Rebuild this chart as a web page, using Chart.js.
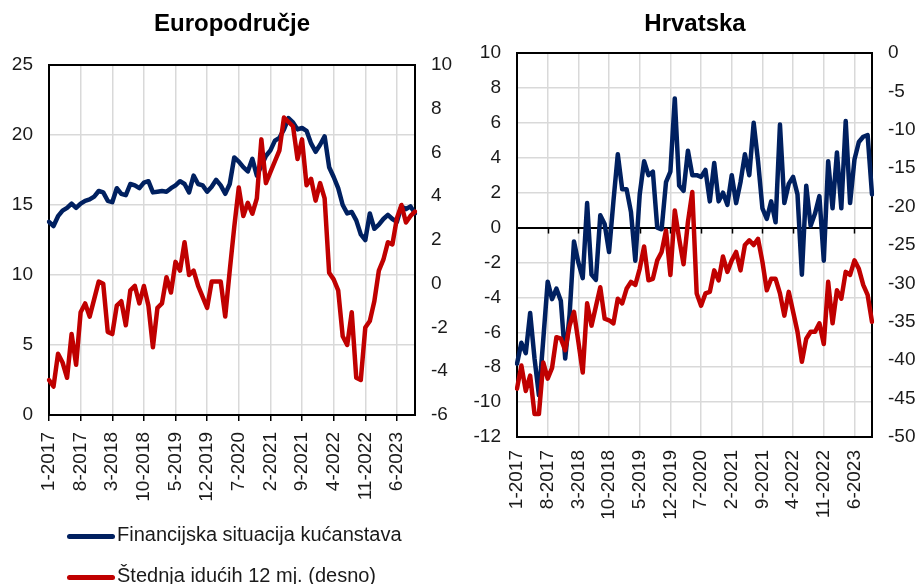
<!DOCTYPE html>
<html>
<head>
<meta charset="utf-8">
<script src="https://cdn.jsdelivr.net/npm/chart.js@4.4.1/dist/chart.umd.min.js"></script>
<style>
  body { margin:0; background:#fff; width:920px; height:584px; position:relative; overflow:hidden;
         font-family:'Liberation Sans', Arial, sans-serif; }
  .panel { position:absolute; top:0; }
  .title { position:absolute; top:9px; width:200px; font-weight:bold; font-size:24px; text-align:center; color:#000; }
  .leg { position:absolute; left:67px; height:30px; font-size:20px; color:#1a1a1a; }
  .leg i { position:absolute; left:0; top:13px; width:48px; height:5px; border-radius:3px; }
  .leg span { position:absolute; left:50px; top:2px; white-space:nowrap; }
</style>
</head>
<body>
<canvas id="euChart" class="panel" width="460" height="530" style="left:0"></canvas>
<canvas id="hrChart" class="panel" width="460" height="530" style="left:460px"></canvas>
<div class="title" style="left:132px">Europodručje</div>
<div class="title" style="left:595px">Hrvatska</div>
<div class="leg" style="top:521px"><i style="background:#002060"></i><span>Financijska situacija kućanstava</span></div>
<div class="leg" style="top:562px"><i style="background:#c00000"></i><span>Štednja idućih 12 mj. (desno)</span></div>
<script>
// monthly, 1-2017 .. 10-2023
const months = [];
for (let i = 0; i < 82; i++) months.push((i % 12 + 1) + '-' + (2017 + Math.floor(i / 12)));

// Europodručje: financial situation (left axis), savings next 12 months (right axis)
const euFinancial = [13.8,13.5,14.2,14.6,14.8,15.1,14.8,15.1,15.3,15.4,
  15.6,16.0,15.9,15.3,15.2,16.2,15.8,15.7,16.5,16.4,
  16.2,16.6,16.7,15.9,15.95,16.0,15.95,16.2,16.4,16.7,
  16.5,15.9,17.1,16.5,16.4,15.95,16.3,16.8,16.4,15.8,
  16.5,18.4,18.1,17.7,17.4,18.3,17.1,17.8,18.5,18.9,
  19.6,19.8,20.4,21.2,20.9,20.4,20.5,20.3,19.4,18.8,
  19.3,19.9,17.7,17.0,16.2,15.0,14.4,14.5,13.9,12.9,
  12.5,14.4,13.3,13.6,14.0,14.3,14.0,13.8,14.9,14.7,
  14.9,14.4];
const euSavings = [-4.4,-4.7,-3.2,-3.6,-4.3,-2.3,-3.7,-1.3,-0.9,-1.5,
  -0.7,0.1,0.0,-2.2,-2.3,-1.0,-0.8,-1.9,-0.3,-0.1,
  -0.9,-0.1,-1.0,-2.9,-1.1,-0.9,0.3,-0.4,1.0,0.6,
  1.9,0.4,0.6,-0.1,-0.6,-1.1,0.1,0.1,0.1,-1.5,
  0.6,2.6,4.4,3.1,3.7,3.2,3.9,6.6,4.6,5.1,
  5.6,6.1,7.6,7.4,7.2,5.7,6.6,4.5,4.8,3.8,
  4.6,3.9,0.5,0.2,-0.3,-2.4,-2.8,-1.3,-4.3,-4.4,
  -2.0,-1.7,-0.8,0.6,1.1,1.9,1.8,3.0,3.6,2.8,
  3.1,3.3];

// Hrvatska
const hrFinancial = [-7.8,-6.6,-7.2,-4.9,-7.5,-9.6,-6.4,-3.1,-4.1,-3.5,
  -4.2,-7.5,-5.0,-0.8,-2.0,-2.9,1.4,-2.7,-3.0,0.7,
  0.2,-1.4,1.5,4.2,2.2,2.2,0.9,-1.9,1.9,3.8,
  3.0,3.2,0.0,-0.1,2.6,3.2,7.4,2.4,2.1,4.4,
  3.0,3.0,2.9,3.3,1.5,3.7,1.5,2.0,1.3,3.0,
  1.4,2.6,4.2,3.0,6.0,3.8,1.1,0.5,1.5,0.3,
  5.9,1.4,2.5,2.9,1.9,-2.7,2.4,0.1,0.8,1.8,
  -1.9,3.8,1.1,4.3,1.1,6.1,1.4,3.9,4.9,5.2,
  5.3,1.9];
const hrSavings = [-43.7,-40.7,-44.0,-42.0,-47.0,-47.0,-40.3,-42.4,-41.0,-37.0,
  -37.2,-38.7,-35.5,-33.7,-37.6,-41.6,-32.6,-35.5,-33.0,-30.5,
  -34.6,-34.8,-35.2,-32.0,-32.6,-30.7,-29.8,-30.2,-28.1,-25.2,
  -29.6,-29.4,-27.0,-25.9,-23.1,-28.9,-20.5,-24.2,-27.5,-22.0,
  -18.1,-31.3,-32.9,-31.3,-31.1,-28.3,-29.6,-26.5,-28.5,-27.0,
  -25.9,-28.3,-25.0,-24.4,-25.0,-24.2,-27.2,-30.9,-29.4,-29.4,
  -31.3,-34.2,-31.1,-33.7,-36.3,-40.2,-37.2,-36.3,-36.3,-35.2,
  -37.9,-29.8,-35.2,-30.9,-32.0,-28.5,-28.9,-27.0,-28.1,-30.2,
  -31.5,-35.0];

const BLUE = '#002060';
const RED = '#c00000';
const GRID = '#d9d9d9';
const TXT = '#1a1a1a';
const tickFont = { family: "'Liberation Sans', Arial, sans-serif", size: 19 };

// black frame round the plot area
const framePlugin = {
  id: 'frame',
  beforeDatasetsDraw(chart){
    const a = chart.chartArea, c = chart.ctx;
    c.save();
    c.strokeStyle = '#000';
    c.lineWidth = 2;
    c.strokeRect(a.left, a.top, a.right - a.left, a.bottom - a.top);
    c.restore();
  }
};

// small tick marks along the zero line (Hrvatska)
const zeroTicksPlugin = {
  id: 'zeroTicks',
  beforeDatasetsDraw(chart){
    const xs = chart.scales.x, y0 = chart.scales.y.getPixelForValue(0), c = chart.ctx;
    c.save();
    c.strokeStyle = '#000';
    c.lineWidth = 1.5;
    for (let i = 7; i < months.length; i += 7){
      const x = Math.round(xs.getPixelForValue(i)) + 0.5;
      c.beginPath(); c.moveTo(x, y0); c.lineTo(x, y0 + 6); c.stroke();
    }
    c.restore();
  }
};

function buildPanel(id, o){
  return new Chart(document.getElementById(id), {
    type: 'line',
    data: {
      labels: months,
      datasets: [
        { label: 'Štednja idućih 12 mj. (desno)', data: o.savings, yAxisID: 'y1', borderColor: RED, order: 0 },
        { label: 'Financijska situacija kućanstava', data: o.financial, yAxisID: 'y', borderColor: BLUE, order: 1 }
      ]
    },
    options: {
      responsive: false,
      animation: false,
      devicePixelRatio: 1,
      layout: { padding: { top: o.top, left: 0, right: 0, bottom: 0 } },
      plugins: { legend: { display: false }, tooltip: { enabled: false } },
      elements: {
        point: { radius: 0 },
        line: { borderWidth: 4.5, tension: 0, borderJoinStyle: 'round', borderCapStyle: 'round', fill: false }
      },
      scales: {
        x: {
          type: 'category',
          offset: false,
          afterFit: s => { s.height = o.xHeight; },
          border: { display: false },
          grid: { color: GRID, lineWidth: 1.5, drawTicks: o.bottomTicks, tickLength: 6, tickColor: '#000', tickWidth: 1.5 },
          ticks: {
            autoSkip: false, minRotation: 90, maxRotation: 90, padding: o.xPad,
            font: tickFont, color: TXT,
            callback: (v, i) => i % 7 === 0 ? months[i] : null
          }
        },
        y: {
          position: 'left',
          min: o.left[0], max: o.left[1],
          afterFit: s => { s.width = o.leftW; },
          border: { display: false },
          grid: {
            drawTicks: false,
            color: c => (o.zeroLine && c.tick.value === 0) ? '#000' : GRID,
            lineWidth: c => (o.zeroLine && c.tick.value === 0) ? 2 : 1.5
          },
          ticks: { stepSize: o.left[2], padding: 16, font: tickFont, color: TXT }
        },
        y1: {
          position: 'right',
          min: o.right[0], max: o.right[1],
          afterFit: s => { s.width = o.rightW; },
          border: { display: false },
          grid: { display: false, drawTicks: false },
          ticks: { stepSize: o.right[2], padding: 16, font: tickFont, color: TXT }
        }
      }
    },
    plugins: o.zeroLine ? [framePlugin, zeroTicksPlugin] : [framePlugin]
  });
}

buildPanel('euChart', {
  financial: euFinancial, savings: euSavings,
  left: [0, 25, 5], right: [-6, 10, 2],
  top: 65, leftW: 49, rightW: 45, xHeight: 115, xPad: 11, bottomTicks: true, zeroLine: false
});
buildPanel('hrChart', {
  financial: hrFinancial, savings: hrSavings,
  left: [-12, 10, 2], right: [-50, 0, 5],
  top: 53, leftW: 57, rightW: 48, xHeight: 93, xPad: 13, bottomTicks: false, zeroLine: true
});
</script>
</body>
</html>
